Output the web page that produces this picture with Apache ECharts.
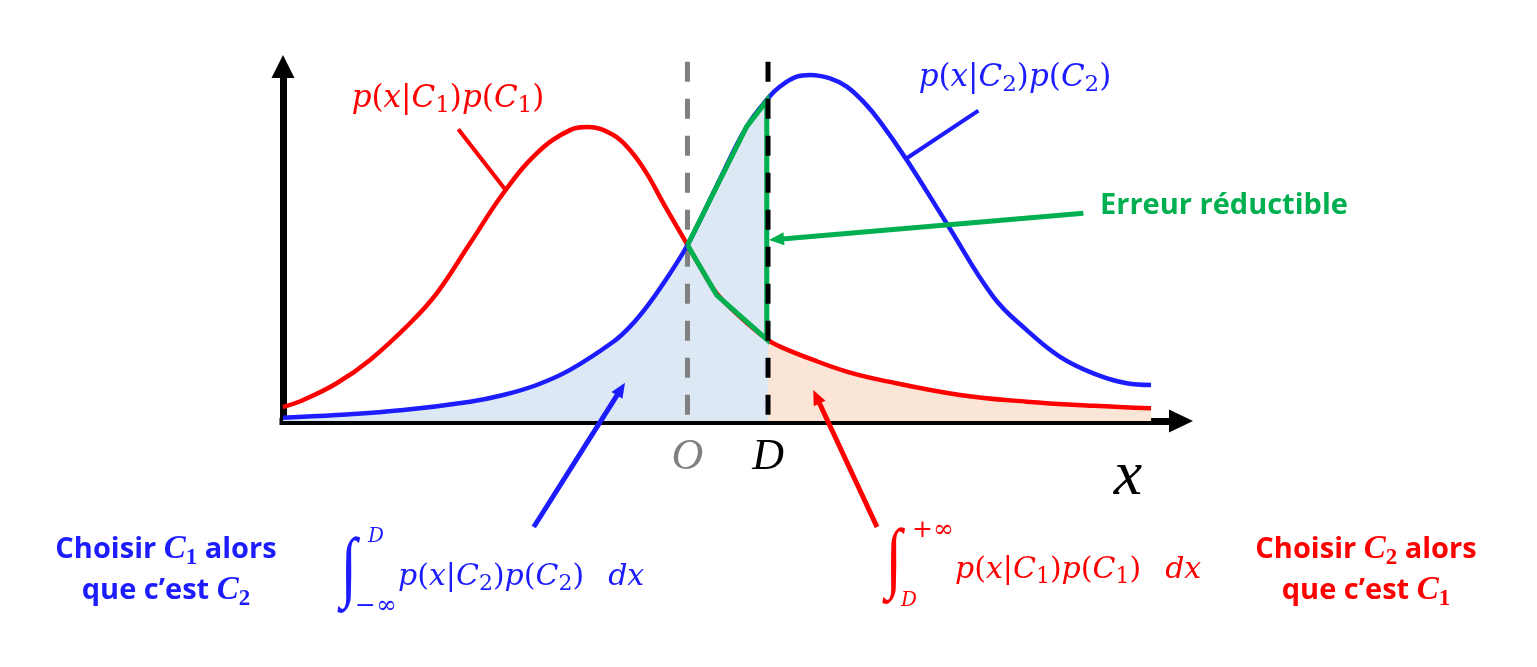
<!DOCTYPE html>
<html><head><meta charset="utf-8">
<script src="https://cdn.jsdelivr.net/npm/echarts@6/dist/echarts.min.js"></script>
<style>html,body{margin:0;padding:0;background:#fff}#c{width:1537px;height:667px}</style>
</head><body><div id="c"></div>
<script>
// ---------- data (x in arbitrary units, y density units) ----------
const O_X = 45.65;          // crossing point O
const D_X = 54.74;          // decision threshold D
const TOP_V = 104.75;       // top of the dashed guide lines
const TICK_VALUES = [O_X, D_X];
const TICK_LABELS = ['O', 'D'];

// p(x|C1)p(C1)
const RED_PTS = [[0,4.08],[2.29,6.12],[6.06,11.0],[9.82,17.8],[14.33,28.5],[17.35,37.2],[21.11,51.8],[24.86,66.4],
  [28.63,78.0],[32.39,84.8],[34.42,85.7],[37.28,83.4],[39.16,79.0],[41.05,72.2],[42.92,63.5],[45.65,51.3],[47.06,45.0],
  [48.95,37.2],[51.58,30.4],[54.74,23.6],[56.09,21.7],[59.85,17.8],[63.62,14.4],[67.38,12.0],[76.41,7.58],[83.94,5.63],
  [91.45,4.46],[97.97,3.70]];
// p(x|C2)p(C2)
const BLUE_PTS = [[0,0.96],[6.06,1.75],[13.58,3.2],[21.11,5.63],[24.86,7.58],[28.63,10.5],[32.39,14.9],[37.28,23.1],
  [39.16,27.5],[41.05,33.3],[42.92,40.1],[45.65,51.3],[48.95,68.6],[52.33,85.8],[54.74,94.1],[56.09,97.5],[57.98,100.4],
  [59.48,100.9],[61.74,99.9],[63.62,97.5],[65.50,93.1],[67.38,87.3],[70.40,76.1],[74.91,57.6],[80.17,36.2],[83.94,26.5],
  [87.70,18.7],[91.45,13.9],[95.23,11.0],[97.97,10.5]];
// reducible error outline
const GREEN_PTS = [[45.65,51.3],[48.95,36.7],[54.6,23.8],[54.6,93.4],[52.33,85.8],[45.65,51.3]];

// ---------- styling ----------
const RED = '#ff0000', BLUE = '#1c1cff', GREEN = '#00b050', GRAY = '#808080';
const MATH = 'DejaVu Serif', SERIF = 'Liberation Serif', BOLD = 'Open Sans';

function mathRich(color, size) {
  return {
    i: {fontFamily: MATH, fontStyle: 'italic', fontSize: size, lineHeight: Math.round(size * 1.2), fill: color},
    n: {fontFamily: MATH, fontSize: size, lineHeight: Math.round(size * 1.2), fill: color},
    s: {fontFamily: MATH, fontSize: Math.round(size * 0.74), lineHeight: Math.round(size * 0.6), verticalAlign: 'bottom', fill: color},
    g: {fontFamily: MATH, fontSize: size, width: Math.round(size * 0.8), lineHeight: Math.round(size * 1.2), fill: color}
  };
}
function boldRich(color) {
  return {
    b: {fontFamily: BOLD, fontWeight: 'bold', fontSize: 29, lineHeight: 41, fill: color},
    ci: {fontFamily: SERIF, fontWeight: 'bold', fontStyle: 'italic', fontSize: 33, lineHeight: 41, fill: color},
    cs: {fontFamily: SERIF, fontWeight: 'bold', fontSize: 23, lineHeight: 14, verticalAlign: 'bottom', fill: color}
  };
}
const P1 = '{i|p}{n|(}{i|x}{n||}{i|C}{s|1}{n|)}{i|p}{n|(}{i|C}{s|1}{n|)}';
const P2 = '{i|p}{n|(}{i|x}{n||}{i|C}{s|2}{n|)}{i|p}{n|(}{i|C}{s|2}{n|)}';

// annotation leader lines / arrows, in data coordinates [from, to, colour, width, arrowhead]
const LEADERS = [
  [[19.79, 85.04], [25.06, 67.55], RED, 4, false],
  [[78.48, 90.47], [70.40, 76.59], BLUE, 4, false],
  [[90.33, 60.55], [54.85, 52.77], GREEN, 5, true],
  [[28.3, -30.9], [38.60, 11.17], BLUE, 5, true],
  [[67.04, -30.9], [59.85, 9.04], RED, 5, true]
];

const chart = echarts.init(document.getElementById('c'), null, {renderer: 'canvas'});

chart.setOption({
  animation: false,
  backgroundColor: '#fff',
  grid: {left: 283, right: 356, top: 66.5, bottom: 246, outerBoundsMode: 'none', containLabel: false},
  xAxis: {
    type: 'value', min: 0, max: 101.35,
    axisLine: {show: true, onZero: false, symbol: ['none', 'triangle'], symbolSize: [23, 24],
      lineStyle: {color: '#000', width: 7, cap: 'square'}},
    axisTick: {show: false}, splitLine: {show: false},
    axisLabel: {
      show: true, customValues: TICK_VALUES, margin: 14,
      formatter: v => v === O_X ? '{o|' + TICK_LABELS[0] + '}' : '{d|' + TICK_LABELS[1] + '}',
      rich: {
        o: {color: GRAY, fontFamily: SERIF, fontStyle: 'italic', fontSize: 44, lineHeight: 44},
        d: {color: '#000', fontFamily: SERIF, fontStyle: 'italic', fontSize: 44, lineHeight: 44}
      }
    }
  },
  yAxis: {
    type: 'value', min: 0, max: 103.35,
    axisLine: {show: true, onZero: false, symbol: ['none', 'triangle'], symbolSize: [23, 23],
      lineStyle: {color: '#000', width: 7, cap: 'square'}},
    axisTick: {show: false}, splitLine: {show: false}, axisLabel: {show: false}
  },
  series: [
    {type: 'line', data: BLUE_PTS.filter(p => p[0] <= D_X), smooth: 0.4, symbol: 'none', silent: true, z: 1,
      lineStyle: {width: 0}, areaStyle: {color: '#dde8f5', opacity: 1}},
    {type: 'line', data: RED_PTS.filter(p => p[0] >= D_X), smooth: 0.4, symbol: 'none', silent: true, z: 1,
      lineStyle: {width: 0}, areaStyle: {color: '#fbe5d6', opacity: 1}},
    {type: 'line', data: [[O_X, TOP_V], [O_X, 0]], symbol: 'none', clip: false, silent: true, z: 2,
      lineStyle: {color: GRAY, width: 5, type: [20, 17]}},
    {type: 'line', data: RED_PTS, smooth: 0.4, symbol: 'none', silent: true, z: 3, clip: false,
      lineStyle: {color: RED, width: 4.5}},
    {type: 'line', data: BLUE_PTS, smooth: 0.4, symbol: 'none', silent: true, z: 3, clip: false,
      lineStyle: {color: BLUE, width: 4.5}},
    {type: 'line', data: GREEN_PTS, smooth: false, symbol: 'none', silent: true, z: 4, clip: false,
      lineStyle: {color: GREEN, width: 5, join: 'miter'}},
    {type: 'line', data: [[D_X, TOP_V], [D_X, 0]], symbol: 'none', clip: false, silent: true, z: 5,
      lineStyle: {color: '#000', width: 5, type: [20, 17]}}
  ]
});

// leader lines and arrowheads placed through the grid's own scale
const leaderGraphics = [];
LEADERS.forEach(([a, b, color, width, arrow]) => {
  const p = chart.convertToPixel({gridIndex: 0}, a);
  const q = chart.convertToPixel({gridIndex: 0}, b);
  let end = q;
  if (arrow) {
    const dx = q[0] - p[0], dy = q[1] - p[1], len = Math.hypot(dx, dy);
    const ux = dx / len, uy = dy / len, L = 15, W = 6.5;
    const bx = q[0] - ux * L, by = q[1] - uy * L;
    end = [bx + ux * 2, by + uy * 2];
    leaderGraphics.push({type: 'polygon', z: 101, silent: true,
      shape: {points: [[q[0], q[1]], [bx - uy * W, by + ux * W], [bx + uy * W, by - ux * W]]},
      style: {fill: color}});
  }
  leaderGraphics.push({type: 'line', z: 100, silent: true,
    shape: {x1: p[0], y1: p[1], x2: end[0], y2: end[1]}, style: {stroke: color, lineWidth: width}});
});

const T = (style) => ({type: 'text', z: 102, silent: true, style: style});
const INTEGRAL = (x, y, color) => ({type: 'text', z: 102, silent: true, x: x, y: y, scaleY: 1.3,
  style: {text: '∫', fontFamily: SERIF, fontSize: 60, fill: color, align: 'center', verticalAlign: 'middle'}});
chart.setOption({
  graphic: leaderGraphics.concat([
    T({x: 448, y: 99, text: P1, rich: mathRich(RED, 31), align: 'center', verticalAlign: 'middle'}),
    T({x: 1015, y: 78, text: P2, rich: mathRich(BLUE, 31), align: 'center', verticalAlign: 'middle'}),
    T({x: 1100, y: 206, text: 'Erreur réductible', fontFamily: BOLD, fontWeight: 'bold', fontSize: 29,
      fill: GREEN, align: 'left', verticalAlign: 'middle'}),
    T({x: 1128, y: 477, text: 'x', fontFamily: SERIF, fontStyle: 'italic', fontSize: 64,
      fill: '#000', align: 'center', verticalAlign: 'middle'}),
    // blue integral
    INTEGRAL(349, 572, BLUE),
    T({x: 376, y: 537, text: 'D', fontFamily: MATH, fontStyle: 'italic', fontSize: 20, fill: BLUE, align: 'center', verticalAlign: 'middle'}),
    T({x: 376, y: 606, text: '−∞', fontFamily: MATH, fontSize: 25, fill: BLUE, align: 'center', verticalAlign: 'middle'}),
    T({x: 398, y: 577, text: P2 + '{g| }{i|dx}', rich: mathRich(BLUE, 30), align: 'left', verticalAlign: 'middle'}),
    // red integral
    INTEGRAL(894, 563, RED),
    T({x: 933, y: 530, text: '+∞', fontFamily: MATH, fontSize: 25, fill: RED, align: 'center', verticalAlign: 'middle'}),
    T({x: 909, y: 601, text: 'D', fontFamily: MATH, fontStyle: 'italic', fontSize: 20, fill: RED, align: 'center', verticalAlign: 'middle'}),
    T({x: 955, y: 570, text: P1 + '{g| }{i|dx}', rich: mathRich(RED, 30), align: 'left', verticalAlign: 'middle'}),
    // side captions
    T({x: 166, y: 570, text: '{b|Choisir }{ci|C}{cs|1}{b| alors}\n{b|que c’est }{ci|C}{cs|2}',
      rich: boldRich(BLUE), align: 'center', verticalAlign: 'middle'}),
    T({x: 1366, y: 570, text: '{b|Choisir }{ci|C}{cs|2}{b| alors}\n{b|que c’est }{ci|C}{cs|1}',
      rich: boldRich(RED), align: 'center', verticalAlign: 'middle'})
  ])
});
</script></body></html>
